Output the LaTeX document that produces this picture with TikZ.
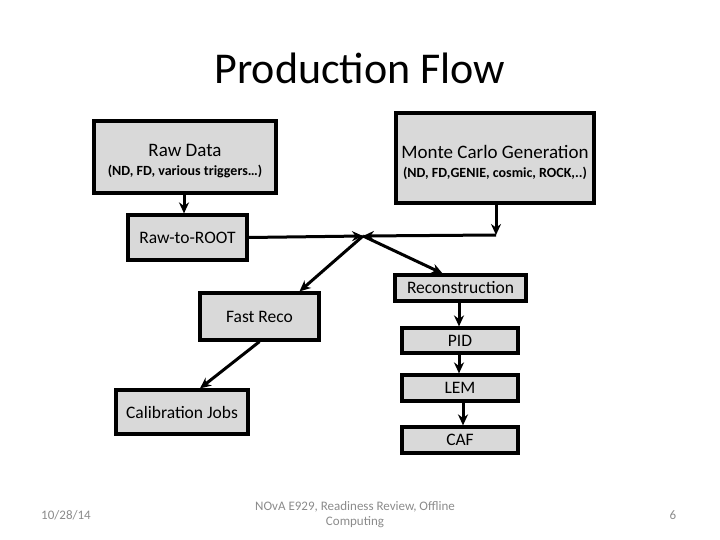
\documentclass[tikz,border=0pt]{standalone}
\usepackage{fontspec}
\setmainfont{Carlito}
\usetikzlibrary{arrows.meta,calc}
\definecolor{boxgray}{HTML}{D9D9D9}
\definecolor{footgray}{HTML}{8B8B8B}
\tikzset{
  flowbox/.style={draw=black, line width=3.2pt, fill=boxgray, rectangle, inner sep=0pt, align=center, font=\fontsize{17.5}{21}\selectfont},
  flowarrow/.style={line width=3pt, -{Stealth[length=11pt,width=10pt]}},
  boxtext/.style={align=center, inner sep=0pt, font=\fontsize{19}{22}\selectfont},
  foottext/.style={text=footgray, font=\fontsize{13}{15}\selectfont, align=center}
}
\begin{document}
\begin{tikzpicture}[x=1pt,y=-1pt]
\useasboundingbox (0,0) rectangle (720,540);
\node[font=\fontsize{44}{48}\selectfont] (title) at (360,68) {Production Flow};

\node[flowbox, minimum width=182pt, minimum height=72pt] (raw) at (185,157) {};
\node[boxtext] (rawtxt) at (185,161)
  {Raw Data\\[-3pt]{\fontsize{14}{16}\selectfont\bfseries (ND, FD, various triggers\dots)}};
\node[flowbox, minimum width=198pt, minimum height=90pt] (mc) at (495,158) {};
\node[boxtext] (mctxt) at (495,162)
  {Monte Carlo Generation\\[-3pt]{\fontsize{14}{16}\selectfont\bfseries (ND, FD,GENIE, cosmic, ROCK,..)}};
\node[flowbox, minimum width=119pt, minimum height=45pt] (r2r) at (187.5,237.5) {Raw-to-ROOT};
\node[flowbox, minimum width=131pt, minimum height=26pt] (reco) at (460.5,288) {Reconstruction};
\node[flowbox, minimum width=119pt, minimum height=47pt] (fast) at (259.5,316.5) {Fast Reco};
\node[flowbox, minimum width=132pt, minimum height=44pt] (calib) at (182,412) {Calibration Jobs};
\node[flowbox, minimum width=116pt, minimum height=25pt] (pid) at (460,340.5) {PID};
\node[flowbox, minimum width=116pt, minimum height=26pt] (lem) at (460,388) {LEM};
\node[flowbox, minimum width=116pt, minimum height=26pt] (caf) at (460,440) {CAF};

\coordinate (junc) at (363,236);
\coordinate (mcj) at (496,235);

\draw[flowarrow] (raw.south -| 184,0) -- (r2r.north -| 184,0);
\draw[flowarrow] (r2r.east) -- (junc);
\draw[flowarrow] (mc.south -| mcj) -- (mcj);
\draw[flowarrow] (mcj) -- (junc);
\draw[flowarrow] (junc) -- ([xshift=40pt]fast.north);
\draw[flowarrow] (junc) -- ([xshift=-18pt]reco.north);
\draw[flowarrow] (fast.south) -- ([xshift=18pt]calib.north);
\draw[flowarrow] (reco.south -| 459,0) -- (pid.north -| 459,0);
\draw[flowarrow] (pid.south -| 459,0) -- (lem.north -| 459,0);
\draw[flowarrow] (lem.south -| 463,0) -- (caf.north -| 463,0);

\node[foottext] (date) at (66,515) {10/28/14};
\node[foottext] (conf) at (355,515) {NOvA E929, Readiness Review, Offline\\Computing};
\node[foottext] (page) at (673,515) {6};
\end{tikzpicture}
\end{document}
